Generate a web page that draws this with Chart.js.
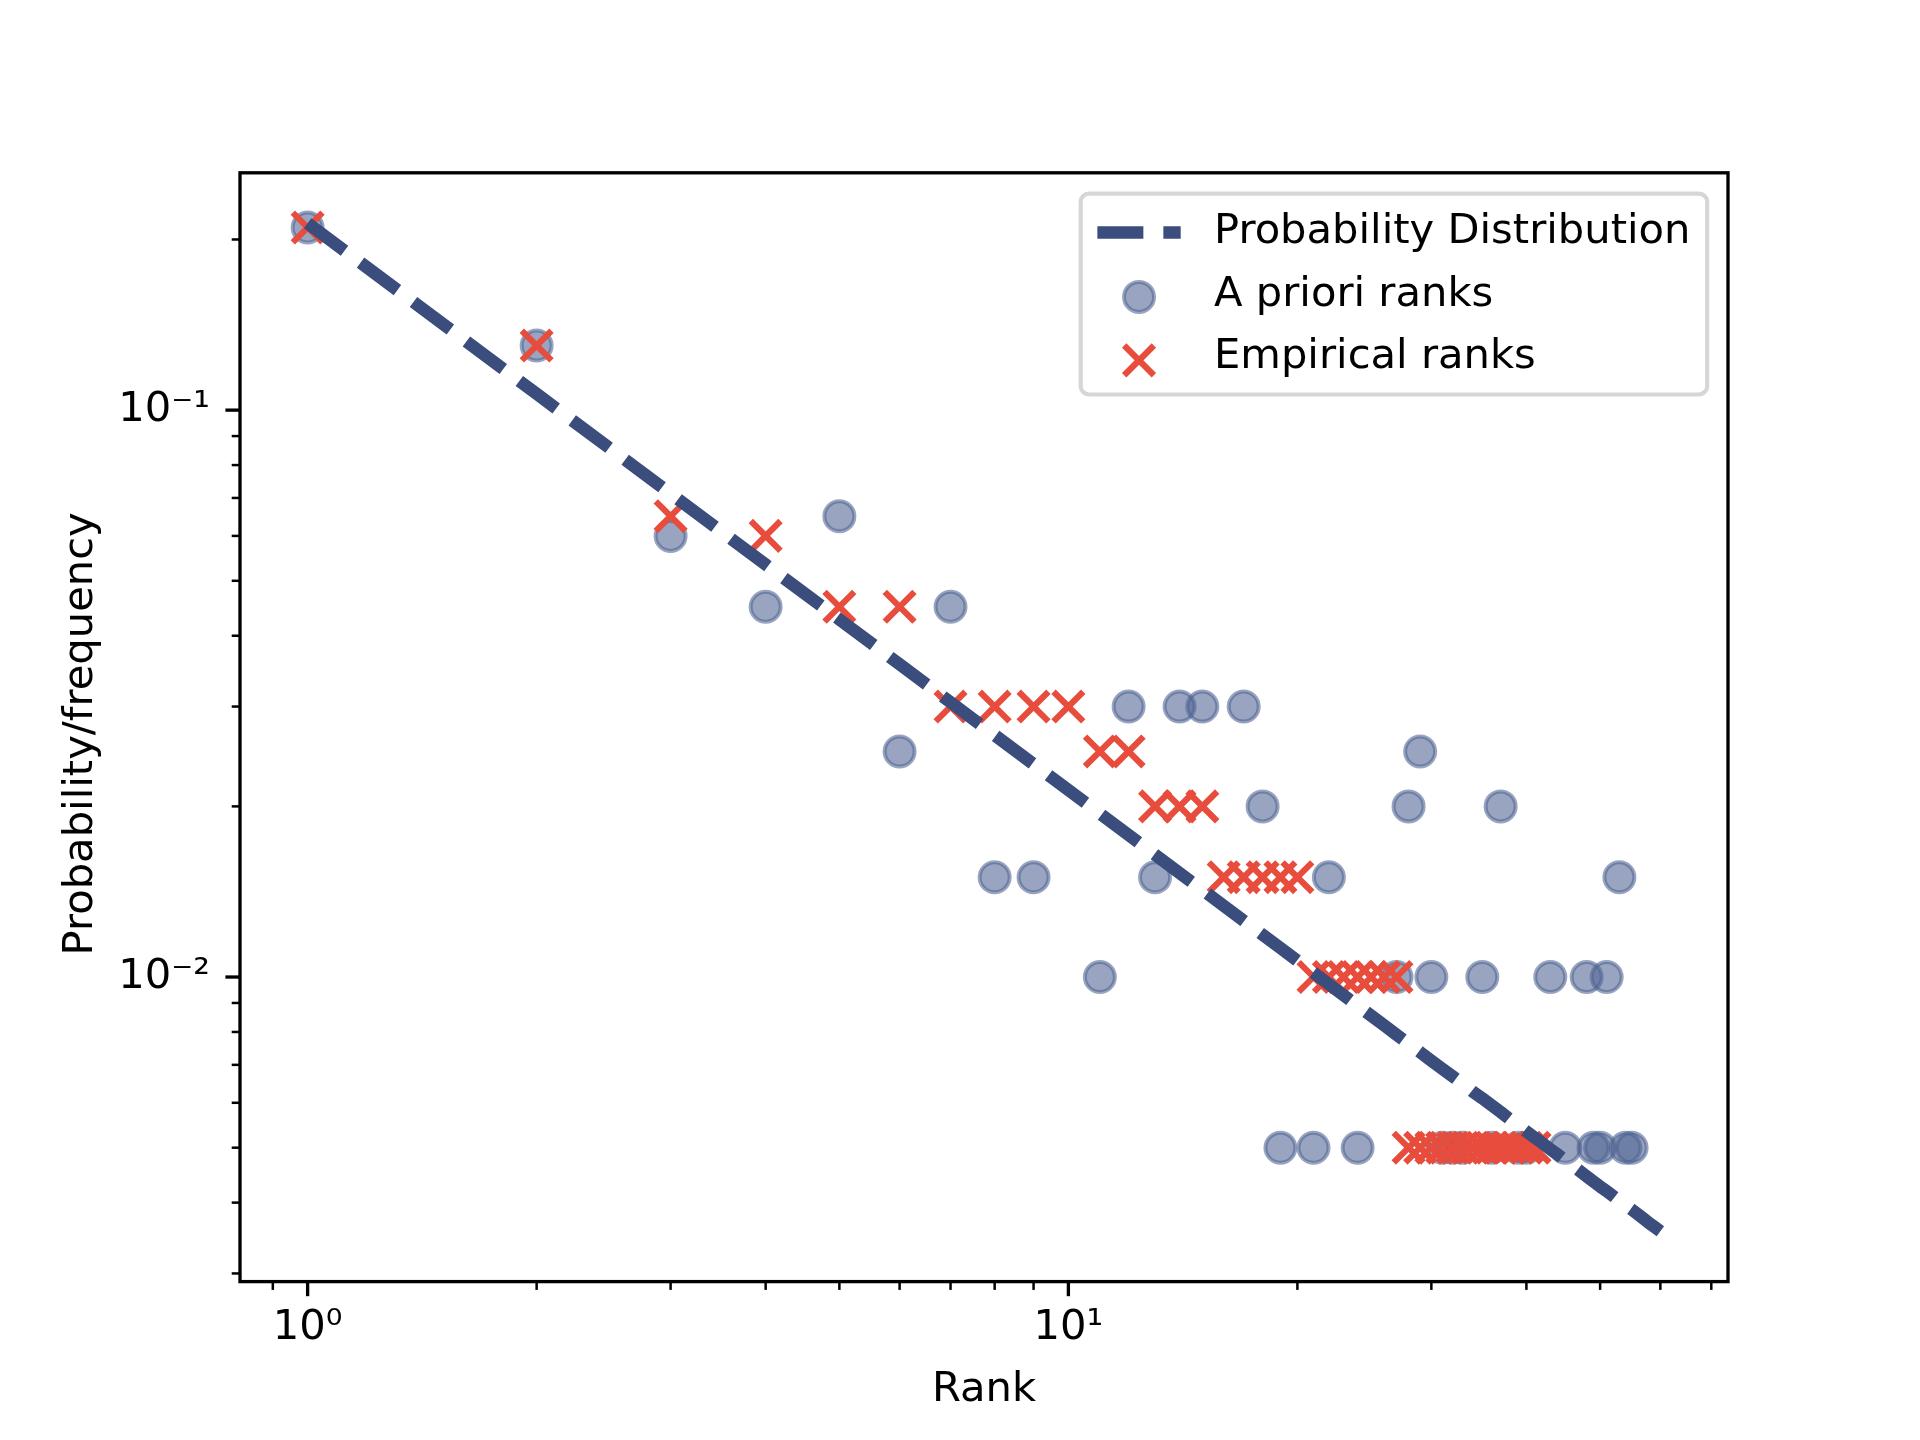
<!DOCTYPE html>
<html>
<head>
<meta charset="utf-8">
<script src="https://cdn.jsdelivr.net/npm/chart.js@4.4.1/dist/chart.umd.min.js"></script>
<style>
html,body{margin:0;padding:0;background:#ffffff;}
#wrap{width:1920px;height:1440px;position:relative;}
</style>
</head>
<body>
<div id="wrap"><canvas id="c"></canvas></div>
<script>
// ---------- data ----------
const seriesLabels = ['Probability Distribution', 'A priori ranks', 'Empirical ranks'];

const lineRanks = [1,2,3,4,5,6,7,8,9,10,11,12,13,14,15,16,17,18,19,20,
  21,22,23,24,25,26,27,28,29,30,31,32,33,34,35,36,37,38,39,40,
  41,42,43,44,45,46,47,48,49,50,51,52,53,54,55,56,57,58,59,60];
const lineProb = [0.21368,0.10684,0.07123,0.05342,0.04274,0.03561,0.03053,0.02671,0.02374,0.02137,
  0.01943,0.01781,0.01644,0.01526,0.01425,0.01336,0.01257,0.01187,0.01125,0.01068,
  0.01018,0.00971,0.00929,0.00890,0.00855,0.00822,0.00791,0.00763,0.00737,0.00712,
  0.00689,0.00668,0.00648,0.00628,0.00611,0.00594,0.00578,0.00562,0.00548,0.00534,
  0.00521,0.00509,0.00497,0.00486,0.00475,0.00465,0.00455,0.00445,0.00436,0.00427,
  0.00419,0.00411,0.00403,0.00396,0.00389,0.00382,0.00375,0.00368,0.00362,0.00356];

const aprioriRanks = [1,2,3,4,5,6,7,8,9,11,12,13,14,15,17,18,19,21,22,24,
  27,28,29,30,31,32,33,35,36,37,39,40,43,45,48,49,50,51,53,54,55];
const aprioriFreq = [0.21,0.13,0.06,0.045,0.065,0.025,0.045,0.015,0.015,0.01,0.03,0.015,0.03,0.03,0.03,0.02,0.005,0.005,0.015,0.005,
  0.01,0.02,0.025,0.01,0.005,0.005,0.005,0.01,0.005,0.02,0.005,0.005,0.01,0.005,0.01,0.005,0.005,0.01,0.015,0.005,0.005];

const empiricalRanks = [1,2,3,4,5,6,7,8,9,10,11,12,13,14,15,16,17,18,19,20,
  21,22,23,24,25,26,27,28,29,30,31,32,33,34,35,36,37,38,39,40,41];
const empiricalFreq = [0.21,0.13,0.065,0.06,0.045,0.045,0.03,0.03,0.03,0.03,0.025,0.025,0.02,0.02,0.02,0.015,0.015,0.015,0.015,0.015,
  0.01,0.01,0.01,0.01,0.01,0.01,0.01,0.005,0.005,0.005,0.005,0.005,0.005,0.005,0.005,0.005,0.005,0.005,0.005,0.005,0.005];

const xMajorTicks = [1, 10];
const xTickLabels = ['10\u2070', '10\u00B9'];
const xMinorTicks = [0.9, 2, 3, 4, 5, 6, 7, 8, 9, 20, 30, 40, 50, 60, 70];
const yMajorTicks = [0.01, 0.1];
const yTickLabels = ['10\u207B\u00B2', '10\u207B\u00B9'];
const yMinorTicks = [0.003, 0.004, 0.005, 0.006, 0.007, 0.008, 0.009,
  0.02, 0.03, 0.04, 0.05, 0.06, 0.07, 0.08, 0.09, 0.2];

const xTitle = 'Rank';
const yTitle = 'Probability/frequency ';

// ---------- styling ----------
const FS = 41.67;                 // 10pt @ 300dpi
const FONT = "'DejaVu Sans', 'Liberation Sans', sans-serif";
const LINE_COLOR = '#3a4d7c';
const DOT_COLOR = 'rgba(80,100,146,0.58)';
const X_COLOR = '#e74c3c';

function pts(xs, ys) { return xs.map((v, i) => ({x: v, y: ys[i]})); }
function tickSet(majors, minors) {
  return majors.map(v => ({value: v, major: true}))
    .concat(minors.map(v => ({value: v, major: false})))
    .sort((a, b) => a.value - b.value);
}
function labelFor(majors, labels) {
  return function(value) {
    const i = majors.findIndex(m => Math.abs(m - value) / m < 1e-9);
    return i >= 0 ? labels[i] : '';
  };
}

const framePlugin = {
  id: 'framePlugin',
  afterDraw(chart) {
    const {ctx, chartArea: a} = chart;
    const xs = chart.scales.x, ys = chart.scales.y;
    ctx.save();
    ctx.strokeStyle = '#000';
    ctx.lineCap = 'butt';
    // ticks
    xs.ticks.forEach(t => {
      const p = xs.getPixelForValue(t.value);
      if (p < a.left - 1 || p > a.right + 1) return;
      ctx.lineWidth = t.major ? 3.33 : 2.5;
      ctx.beginPath(); ctx.moveTo(p, a.bottom); ctx.lineTo(p, a.bottom + (t.major ? 14.6 : 8.3)); ctx.stroke();
    });
    ys.ticks.forEach(t => {
      const p = ys.getPixelForValue(t.value);
      if (p < a.top - 1 || p > a.bottom + 1) return;
      ctx.lineWidth = t.major ? 3.33 : 2.5;
      ctx.beginPath(); ctx.moveTo(a.left, p); ctx.lineTo(a.left - (t.major ? 14.6 : 8.3), p); ctx.stroke();
    });
    // spines
    ctx.lineWidth = 3.33;
    ctx.lineJoin = 'miter';
    ctx.strokeRect(a.left, a.top, a.right - a.left, a.bottom - a.top);

    // legend
    ctx.font = FS + 'px ' + FONT;
    const textW = Math.max(...seriesLabels.map(s => ctx.measureText(s).width));
    const pad = 0.4 * FS, hl = 2.0 * FS, htp = 0.8 * FS;
    const right = a.right - 0.5 * FS;
    const top = a.top + 0.5 * FS;
    const left = right - (pad + hl + htp + textW + pad);
    const rowY = [top + 0.93 * FS, top + 2.43 * FS, top + 3.93 * FS];
    const bottom = top + 4.82 * FS;
    ctx.beginPath();
    if (ctx.roundRect) ctx.roundRect(left, top, right - left, bottom - top, 8.3);
    else ctx.rect(left, top, right - left, bottom - top);
    ctx.fillStyle = 'rgba(255,255,255,0.8)';
    ctx.fill();
    ctx.lineWidth = 4.17;
    ctx.strokeStyle = 'rgba(204,204,204,0.8)';
    ctx.stroke();

    const hx0 = left + pad, hx1 = hx0 + hl, hxc = (hx0 + hx1) / 2;
    // dashed handle
    ctx.save();
    ctx.strokeStyle = LINE_COLOR;
    ctx.lineWidth = 12.5;
    ctx.setLineDash([46, 20]);
    ctx.beginPath(); ctx.moveTo(hx0, rowY[0]); ctx.lineTo(hx1, rowY[0]); ctx.stroke();
    ctx.restore();
    // dot handle
    ctx.beginPath(); ctx.arc(hxc, rowY[1] + 2, 15, 0, Math.PI * 2);
    ctx.fillStyle = DOT_COLOR; ctx.fill();
    ctx.lineWidth = 4; ctx.strokeStyle = DOT_COLOR; ctx.stroke();
    // x handle
    const r = 21 * Math.SQRT1_2;
    ctx.strokeStyle = X_COLOR; ctx.lineWidth = 6.2;
    ctx.beginPath();
    ctx.moveTo(hxc - r, rowY[2] + 3 - r); ctx.lineTo(hxc + r, rowY[2] + 3 + r);
    ctx.moveTo(hxc - r, rowY[2] + 3 + r); ctx.lineTo(hxc + r, rowY[2] + 3 - r);
    ctx.stroke();
    // texts
    ctx.fillStyle = '#000';
    ctx.textAlign = 'left';
    ctx.textBaseline = 'middle';
    const tx = hx1 + htp;
    seriesLabels.forEach((s, i) => ctx.fillText(s, tx, rowY[i]));
    ctx.restore();
  }
};

new Chart(document.getElementById('c'), {
  data: {
    datasets: [
      {
        type: 'line',
        label: seriesLabels[0],
        data: pts(lineRanks, lineProb),
        borderColor: LINE_COLOR,
        borderWidth: 12.5,
        borderDash: [46, 20],
        borderCapStyle: 'butt',
        borderJoinStyle: 'round',
        pointRadius: 0,
        pointHoverRadius: 0,
        fill: false,
        tension: 0,
        order: 0
      },
      {
        type: 'scatter',
        label: seriesLabels[1],
        data: pts(aprioriRanks, aprioriFreq),
        pointStyle: 'circle',
        pointRadius: 15,
        pointHoverRadius: 15,
        pointBorderWidth: 4,
        backgroundColor: DOT_COLOR,
        borderColor: DOT_COLOR,
        order: 2
      },
      {
        type: 'scatter',
        label: seriesLabels[2],
        data: pts(empiricalRanks, empiricalFreq),
        pointStyle: 'crossRot',
        pointRadius: 21,
        pointHoverRadius: 21,
        pointBorderWidth: 6.2,
        backgroundColor: X_COLOR,
        borderColor: X_COLOR,
        order: 1
      }
    ]
  },
  options: {
    responsive: true,
    maintainAspectRatio: false,
    devicePixelRatio: 1,
    animation: false,
    events: [],
    layout: {padding: {left: 0, top: 172.8, right: 192, bottom: 0}},
    plugins: {legend: {display: false}, tooltip: {enabled: false}},
    scales: {
      x: {
        type: 'logarithmic',
        position: 'bottom',
        min: 0.81490,
        max: 73.63,
        bounds: 'data',
        afterBuildTicks: s => { s.ticks = tickSet(xMajorTicks, xMinorTicks); },
        afterFit: s => { s.height = 158.4; },
        grid: {display: false, drawTicks: false},
        border: {display: false},
        ticks: {
          callback: labelFor(xMajorTicks, xTickLabels),
          autoSkip: false, maxRotation: 0, minRotation: 0,
          padding: 22,
          color: '#000',
          font: {family: FONT, size: FS}
        },
        title: {
          display: true, text: xTitle, color: '#000',
          font: {family: FONT, size: FS, lineHeight: 1.2},
          padding: {top: 0, bottom: 24.5}
        }
      },
      y: {
        type: 'logarithmic',
        position: 'left',
        min: 0.0029023,
        max: 0.26222,
        bounds: 'data',
        afterBuildTicks: s => { s.ticks = tickSet(yMajorTicks, yMinorTicks); },
        afterFit: s => { s.width = 240; },
        grid: {display: false, drawTicks: false},
        border: {display: false},
        ticks: {
          callback: labelFor(yMajorTicks, yTickLabels),
          autoSkip: false,
          padding: 30,
          color: '#000',
          font: {family: FONT, size: FS}
        },
        title: {
          display: true, text: yTitle, color: '#000',
          font: {family: FONT, size: FS, lineHeight: 1.2},
          padding: {top: 56, bottom: 0}
        }
      }
    }
  },
  plugins: [framePlugin]
});
</script>
</body>
</html>
